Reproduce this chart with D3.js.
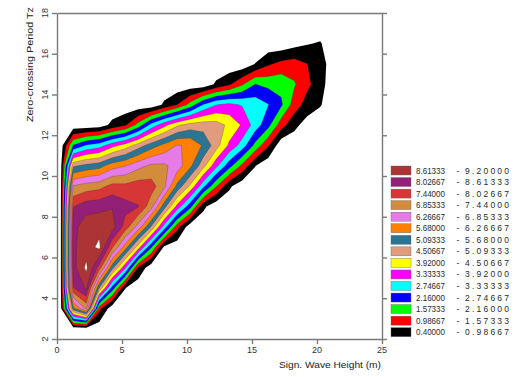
<!DOCTYPE html>
<html>
<head>
<meta charset="utf-8">
<script src="https://cdn.jsdelivr.net/npm/d3@7"></script>
<style>
  html, body { margin: 0; padding: 0; background: #fff; }
  svg { display: block; }
  text { font-family: "Liberation Sans", "DejaVu Sans", sans-serif; }
</style>
</head>
<body>
<svg id="chart" width="519" height="377"></svg>
<script>
// Grid nodes: significant wave height (m) and zero-crossing period (s)
const waveHeights = [0.25, 1.25, 2.25, 3.25, 4.25, 5.25, 6.25, 7.25, 8.25, 9.25, 10.25,
                     11.25, 12.25, 13.25, 14.25, 15.25, 16.25, 17.25, 18.25, 19.25, 20.25, 21.25];
const periods = [2.5, 3.5, 4.5, 5.5, 6.5, 7.5, 8.5, 9.5, 10.5, 11.5, 12.5, 13.5, 14.5, 15.5, 16.5, 17.5];

// Joint occurrence field, one row per period, one column per wave height
const density = [
  [0, 0, 0, 0, 0, 0, 0, 0, 0, 0, 0, 0, 0, 0, 0, 0, 0, 0, 0, 0, 0, 0],
  [0, 5.5, 7.0, 1.2, 0, 0, 0, 0, 0, 0, 0, 0, 0, 0, 0, 0, 0, 0, 0, 0, 0, 0],
  [0, 8.0, 8.7, 5.07, 2.5, 0.42, 0, 0, 0, 0, 0, 0, 0, 0, 0, 0, 0, 0, 0, 0, 0, 0],
  [0, 8.4, 9.32, 7.77, 5.31, 3.45, 0.9, 0, 0, 0, 0, 0, 0, 0, 0, 0, 0, 0, 0, 0, 0, 0],
  [0, 8.5, 8.95, 9.32, 7.51, 5.96, 4.18, 2.21, 0.25, 0, 0, 0, 0, 0, 0, 0, 0, 0, 0, 0, 0, 0],
  [0, 8.4, 8.97, 9.03, 8.85, 7.76, 6.6, 5.03, 3.06, 1.2, 0, 0, 0, 0, 0, 0, 0, 0, 0, 0, 0, 0],
  [0, 8.0, 8.36, 8.43, 8.58, 8.24, 8.05, 7.08, 5.33, 3.72, 2.35, 0.53, 0, 0, 0, 0, 0, 0, 0, 0, 0, 0],
  [0, 6.9, 7.12, 7.24, 7.63, 7.6, 7.76, 7.7, 7.0, 5.51, 4.38, 2.91, 1.62, 0.51, 0, 0, 0, 0, 0, 0, 0, 0],
  [0, 5.0, 5.28, 5.45, 6.01, 6.24, 6.67, 6.97, 6.97, 6.57, 5.81, 4.72, 3.5, 2.39, 1.42, 0.42, 0, 0, 0, 0, 0, 0],
  [0, 2.2, 2.81, 3.06, 3.71, 4.17, 4.81, 5.4, 5.85, 6.3, 6.2, 5.6, 4.77, 3.8, 3.06, 1.98, 1.05, 0, 0, 0, 0, 0],
  [0, 0, 0, 0.1, 0.55, 0.9, 1.8, 2.96, 3.73, 4.41, 4.76, 4.83, 4.77, 4.37, 3.85, 3.06, 2.34, 1.24, 0.57, 0.14, 0, 0],
  [0, 0, 0, 0, 0, 0, 0, 0, 0.5, 1.0, 1.8, 2.78, 3.32, 3.48, 3.28, 3.1, 2.77, 2.25, 1.3, 0.74, 0.45, 0],
  [0, 0, 0, 0, 0, 0, 0, 0, 0, 0, 0, 0, 0.5, 0.9, 1.5, 2.17, 2.0, 2.0, 1.64, 1.12, 0.65, 0],
  [0, 0, 0, 0, 0, 0, 0, 0, 0, 0, 0, 0, 0, 0, 0, 0.42, 0.9, 1.16, 1.25, 0.99, 0.74, 0],
  [0, 0, 0, 0, 0, 0, 0, 0, 0, 0, 0, 0, 0, 0, 0, 0, 0, 0, 0.2, 0.36, 0.45, 0],
  [0, 0, 0, 0, 0, 0, 0, 0, 0, 0, 0, 0, 0, 0, 0, 0, 0, 0, 0, 0, 0, 0]
];

// Contour levels (band edges), lowest first
const levels = [0.4, 0.98667, 1.57333, 2.16, 2.74667, 3.33333, 3.92, 4.50667,
                5.09333, 5.68, 6.26667, 6.85333, 7.44, 8.02667, 8.61333, 9.2];
const bandColors = ["#000000", "#ff0000", "#00ff00", "#0000ff", "#00ffff", "#ff00ff",
                    "#ffff00", "#e09c7c", "#2b7494", "#ff8000", "#e67ae6", "#d38b3c",
                    "#d63636", "#931f77", "#ad3434"];

const xTicks = [0, 5, 10, 15, 20, 25];
const yTicks = [2, 4, 6, 8, 10, 12, 14, 16, 18];
const xTitle = "Sign. Wave Height (m)";
const yTitle = "Zero-crossing Period Tz";

const W = 519, H = 377;
const x = d3.scaleLinear().domain([0, 25]).range([57, 382]);
const y = d3.scaleLinear().domain([2, 18]).range([339, 13]);

const svg = d3.select("#chart");
svg.append("rect").attr("width", W).attr("height", H).attr("fill", "#fff");

// Map contour grid coordinates onto data space, then onto the page
const nx = waveHeights.length, ny = periods.length;
const gx = d3.scaleLinear().domain([0.5, nx - 0.5]).range([waveHeights[0], waveHeights[nx - 1]]);
const gy = d3.scaleLinear().domain([0.5, ny - 0.5]).range([periods[0], periods[ny - 1]]);
const projection = d3.geoTransform({
  point(px, py) { this.stream.point(x(gx(px)), y(gy(py))); }
});
const path = d3.geoPath(projection);

const bands = d3.contours().size([nx, ny]).thresholds(levels)(density.flat());

svg.append("clipPath").attr("id", "plotClip")
  .append("rect").attr("x", x(0)).attr("y", y(18))
  .attr("width", x(25) - x(0)).attr("height", y(2) - y(18));

svg.append("g").attr("clip-path", "url(#plotClip)")
  .selectAll("path")
  .data(bands)
  .join("path")
  .attr("d", path)
  .attr("fill", (d, i) => i < bandColors.length ? bandColors[i] : "#ffffff")
  .attr("stroke", (d, i) => i === 0 ? "none" : "#2a2a2a")
  .attr("stroke-width", 0.45)
  .attr("stroke-opacity", 0.55);

// Frame and ticks
const axisColor = "#7a7a7a";
function styleAxis(g) {
  g.selectAll("path, line").attr("stroke", axisColor).attr("stroke-width", 1.4);
  g.selectAll("text").remove();
}
svg.append("g").attr("transform", `translate(0,${y(2)})`)
  .call(d3.axisBottom(x).tickValues(xTicks).tickSize(5).tickSizeOuter(0)).call(styleAxis);
svg.append("g").attr("transform", `translate(${x(0)},0)`)
  .call(d3.axisLeft(y).tickValues(yTicks).tickSize(5).tickSizeOuter(0)).call(styleAxis);
svg.append("g").attr("transform", `translate(${x(25)},0)`)
  .call(d3.axisRight(y).tickValues(yTicks).tickSize(5).tickSizeOuter(0)).call(styleAxis);
svg.append("g").attr("transform", `translate(0,${y(18)})`)
  .call(d3.axisTop(x).tickValues([]).tickSizeOuter(0)).call(styleAxis);

// Tick labels
svg.append("g").selectAll("text").data(xTicks).join("text")
  .attr("x", d => x(d)).attr("y", 353)
  .attr("text-anchor", "middle").attr("font-size", 9).attr("fill", "#333")
  .text(d => d);
svg.append("g").selectAll("text").data(yTicks).join("text")
  .attr("transform", d => `translate(48,${y(d)}) rotate(-90)`)
  .attr("text-anchor", "middle").attr("font-size", 9).attr("fill", "#333")
  .text(d => d);

// Axis titles
svg.append("text")
  .attr("x", 381).attr("y", 368)
  .attr("text-anchor", "end").attr("font-size", 9).attr("fill", "#222")
  .attr("textLength", 102).attr("lengthAdjust", "spacingAndGlyphs")
  .text(xTitle);
svg.append("text")
  .attr("transform", "translate(33,7) rotate(-90)")
  .attr("text-anchor", "end").attr("font-size", 9).attr("fill", "#222")
  .attr("textLength", 115).attr("lengthAdjust", "spacingAndGlyphs")
  .text(yTitle);

// Legend, highest band at the top
const fmt = d3.format(".5f");
const legendRows = d3.range(bandColors.length).reverse();
const legend = svg.append("g");
legendRows.forEach((bi, k) => {
  const top = 166 + k * 11.55;
  legend.append("rect")
    .attr("x", 391).attr("y", top).attr("width", 20).attr("height", 9)
    .attr("fill", bandColors[bi]).attr("stroke", "#666").attr("stroke-width", 0.4);
  legend.append("text")
    .attr("x", 416).attr("y", top + 7.5).attr("font-size", 8.5).attr("fill", "#2a2a2a")
    .attr("textLength", 29).attr("lengthAdjust", "spacingAndGlyphs")
    .text(fmt(levels[bi]));
  legend.append("text")
    .attr("x", 458).attr("y", top + 7.5).attr("text-anchor", "middle")
    .attr("font-size", 8.5).attr("fill", "#2a2a2a")
    .text("-");
  legend.append("text")
    .attr("x", 465).attr("y", top + 7.5).attr("font-size", 8.5).attr("fill", "#2a2a2a")
    .attr("textLength", 44).attr("lengthAdjust", "spacing")
    .text(fmt(levels[bi + 1]));
});
</script>
</body>
</html>
